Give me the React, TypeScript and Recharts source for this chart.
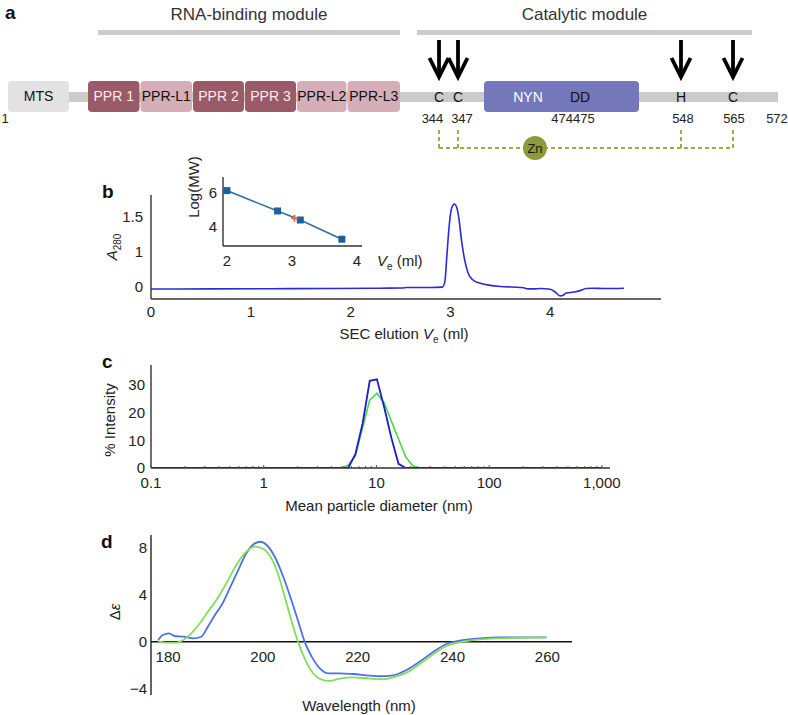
import React from "react";
import {
  ComposedChart,
  Line,
  LineChart,
  ReferenceArea,
  ReferenceLine,
  Scatter,
  XAxis,
  YAxis,
} from "recharts";

const FONT = '"Liberation Sans", Arial, Helvetica, sans-serif';
const INK = "#222";
const AXIS = "#333";
const TICK = { fontSize: 15, fill: INK, fontFamily: FONT };

// ---- a: domain map, x in schematic map units
const modules = [
  { label: "RNA-binding module", from: 98, to: 400 },
  { label: "Catalytic module", from: 417, to: 752 },
];
const domains = [
  { name: "MTS", from: 8, to: 69, kind: "mts" },
  { name: "PPR 1", from: 88, to: 139.5, kind: "ppr" },
  { name: "PPR-L1", from: 140.5, to: 192, kind: "pprl" },
  { name: "PPR 2", from: 193, to: 244, kind: "ppr" },
  { name: "PPR 3", from: 245, to: 296, kind: "ppr" },
  { name: "PPR-L2", from: 297, to: 346.5, kind: "pprl" },
  { name: "PPR-L3", from: 347.5, to: 400, kind: "pprl" },
  { name: "", from: 484, to: 639, kind: "nyn" },
];
const motifs = [
  { x: 528, label: "NYN", kind: "light" },
  { x: 580, label: "DD", kind: "dark" },
];
// zinc ligands: map position of the arrow and of the residue number
const znSites = [
  { x: 439, residue: "C", number: "344", numberX: 432.5 },
  { x: 458, residue: "C", number: "347", numberX: 462 },
  { x: 681, residue: "H", number: "548", numberX: 683 },
  { x: 733, residue: "C", number: "565", numberX: 734 },
];
const mapNumbers = [
  { x: 5, label: "1" },
  { x: 573, label: "474475" },
  { x: 777, label: "572" },
];
const zinc = [{ x: 535, label: "Zn" }];

// ---- b: SEC trace (y in axis tick units: ticks 0,1,2 read as 0, 1, 1.5)
const secTrace = [
  { v: 0, a: -0.075 }, { v: 0.6, a: -0.07 }, { v: 1.2, a: -0.065 }, { v: 1.8, a: -0.06 },
  { v: 2.3, a: -0.05 }, { v: 2.52, a: -0.045 }, { v: 2.56, a: -0.03 }, { v: 2.8, a: -0.03 },
  { v: 2.92, a: -0.02 }, { v: 2.945, a: 0.15 }, { v: 2.965, a: 0.9 }, { v: 2.985, a: 1.65 },
  { v: 3.005, a: 2.15 }, { v: 3.025, a: 2.33 }, { v: 3.04, a: 2.36 }, { v: 3.06, a: 2.29 },
  { v: 3.085, a: 1.95 }, { v: 3.11, a: 1.35 }, { v: 3.14, a: 0.8 }, { v: 3.175, a: 0.4 },
  { v: 3.22, a: 0.2 }, { v: 3.3, a: 0.09 }, { v: 3.4, a: 0.03 }, { v: 3.5, a: 0.0 },
  { v: 3.72, a: -0.03 }, { v: 3.78, a: -0.07 }, { v: 3.84, a: -0.07 }, { v: 3.9, a: -0.06 },
  { v: 4.0, a: -0.08 }, { v: 4.05, a: -0.16 }, { v: 4.1, a: -0.27 }, { v: 4.13, a: -0.25 },
  { v: 4.16, a: -0.19 }, { v: 4.24, a: -0.16 }, { v: 4.3, a: -0.12 }, { v: 4.36, a: -0.06 },
  { v: 4.42, a: -0.05 }, { v: 4.55, a: -0.06 }, { v: 4.74, a: -0.05 },
];
const secXTicks = [0, 1, 2, 3, 4];
const secYTicks = [0, 1, 2];
const secYLabels = ["0", "1", "1.5"];

// b inset: calibration standards and sample
const standards = [
  { v: 2.0, mw: 6.12 },
  { v: 2.78, mw: 4.92 },
  { v: 3.13, mw: 4.39 },
  { v: 3.77, mw: 3.26 },
];
const sample = [{ v: 3.04, mw: 4.49 }];
const insetXTicks = [2, 3, 4];
const insetYTicks = [4, 6];

// ---- c: DLS size distributions
const dlsBlue = [
  { d: 0.1, pct: 0 }, { d: 5.615, pct: 0 }, { d: 6.503, pct: 5 }, { d: 7.531, pct: 16 },
  { d: 8.721, pct: 31.5 }, { d: 10.1, pct: 32 }, { d: 11.7, pct: 22 }, { d: 13.54, pct: 11 },
  { d: 15.69, pct: 1.5 }, { d: 18.17, pct: 0 }, { d: 1000, pct: 0 },
];
const dlsGreen = [
  { d: 4.849, pct: 0 }, { d: 5.615, pct: 1 }, { d: 6.503, pct: 4.5 }, { d: 7.531, pct: 14.5 },
  { d: 8.721, pct: 24.5 }, { d: 10.1, pct: 27 }, { d: 11.7, pct: 23.5 }, { d: 13.54, pct: 17 },
  { d: 15.69, pct: 10.5 }, { d: 18.17, pct: 4 }, { d: 21.04, pct: 0.8 }, { d: 24.36, pct: 0 },
];
const dlsMajor = [0.1, 1, 10, 100, 1000];
const dlsMajorLabels = ["0.1", "1", "10", "100", "1,000"];
const dlsYTicks = [0, 10, 20, 30];

// ---- d: CD spectra
const cdBlue = [
  { wl: 177.9, de: 0.14 }, { wl: 178.9, de: 0.57 }, { wl: 180.2, de: 0.71 }, { wl: 181.4, de: 0.48 },
  { wl: 183.2, de: 0.42 }, { wl: 185.3, de: 0.28 }, { wl: 187.0, de: 0.42 }, { wl: 188.4, de: 1.27 },
  { wl: 189.9, de: 2.26 }, { wl: 191.3, de: 3.11 }, { wl: 193.0, de: 4.52 }, { wl: 194.8, de: 6.07 },
  { wl: 196.5, de: 7.49 }, { wl: 198.3, de: 8.33 }, { wl: 199.5, de: 8.47 }, { wl: 200.8, de: 8.19 },
  { wl: 202.5, de: 7.2 }, { wl: 204.3, de: 5.5 }, { wl: 206.0, de: 3.53 }, { wl: 207.8, de: 1.27 },
  { wl: 208.8, de: 0.0 }, { wl: 210.3, de: -1.27 }, { wl: 212.0, de: -2.26 }, { wl: 213.8, de: -2.68 },
  { wl: 216.2, de: -2.68 }, { wl: 219.0, de: -2.74 }, { wl: 222.6, de: -2.88 }, { wl: 224.5, de: -2.93 },
  { wl: 227.5, de: -2.85 }, { wl: 230.3, de: -2.4 }, { wl: 233.1, de: -1.69 }, { wl: 236.0, de: -0.85 },
  { wl: 238.7, de: -0.2 }, { wl: 241.5, de: 0.08 }, { wl: 245.8, de: 0.28 }, { wl: 249.3, de: 0.37 },
  { wl: 254.2, de: 0.37 }, { wl: 259.8, de: 0.37 },
];
const cdGreen = [
  { wl: 177.9, de: 0.05 }, { wl: 179.7, de: -0.08 }, { wl: 181.8, de: -0.08 }, { wl: 183.2, de: 0.14 },
  { wl: 184.9, de: 0.71 }, { wl: 186.7, de: 1.56 }, { wl: 188.4, de: 2.54 }, { wl: 190.2, de: 3.53 },
  { wl: 192.3, de: 4.95 }, { wl: 194.4, de: 6.5 }, { wl: 196.5, de: 7.63 }, { wl: 198.3, de: 8.05 },
  { wl: 199.3, de: 8.0 }, { wl: 201.1, de: 7.49 }, { wl: 202.9, de: 6.07 }, { wl: 204.6, de: 3.81 },
  { wl: 206.4, de: 1.27 }, { wl: 207.4, de: 0.0 }, { wl: 208.8, de: -1.41 }, { wl: 210.6, de: -2.68 },
  { wl: 212.7, de: -3.25 }, { wl: 214.1, de: -3.33 }, { wl: 216.2, de: -3.13 }, { wl: 219.0, de: -3.02 },
  { wl: 222.6, de: -3.13 }, { wl: 225.5, de: -3.19 }, { wl: 227.5, de: -3.02 }, { wl: 230.3, de: -2.62 },
  { wl: 233.1, de: -1.89 }, { wl: 236.0, de: -1.04 }, { wl: 238.7, de: -0.37 }, { wl: 242.2, de: 0.0 },
  { wl: 245.8, de: 0.2 }, { wl: 249.3, de: 0.28 }, { wl: 254.2, de: 0.31 }, { wl: 259.8, de: 0.37 },
];
const cdXTicks = [180, 200, 220, 240, 260];
const cdYTicks = [-4, 0, 4, 8];

const DOMAIN_FILL: Record<string, string> = { mts: "#e2e2e2", ppr: "#9b5a68", pprl: "#d6aeb8", nyn: "#7478ba" };
const DOMAIN_TEXT: Record<string, string> = { mts: "#111", ppr: "#f6eef0", pprl: "#111", nyn: "#fff" };

const textShape = (style: Record<string, any>) => (p: any) => (
  <text x={p.cx} y={p.cy} textAnchor="middle" dominantBaseline="central" fontFamily={FONT} {...style}>
    {p.payload.label}
  </text>
);

function Arrow(p: any) {
  const { cx, cy } = p;
  return (
    <g stroke="#000" strokeWidth={3.8} fill="none">
      <line x1={cx} y1={cy} x2={cx} y2={cy + 36} />
      <path d={`M${cx - 9.5},${cy + 18} L${cx},${cy + 37} L${cx + 9.5},${cy + 18}`} strokeLinejoin="miter" />
    </g>
  );
}

function ZnBadge(p: any) {
  return (
    <g>
      <circle cx={p.cx} cy={p.cy} r={12} fill="#8d9b3d" />
      <text x={p.cx} y={p.cy} textAnchor="middle" dominantBaseline="central" fontSize={13} fill="#1a1a1a" fontFamily={FONT}>
        {p.payload.label}
      </text>
    </g>
  );
}

function DomainMap() {
  const row = { title: 14, bar: [30, 35], arrow: 40, box: [81, 112], spine: [92, 102], residue: 97, number: 118, bracket: [130, 148] };
  const dash = { stroke: "#a3a948", strokeWidth: 2, strokeDasharray: "4 3" };
  return (
    <ComposedChart width={788} height={160} margin={{ top: 0, right: 0, bottom: 0, left: 0 }}>
      <XAxis type="number" dataKey="x" domain={[0, 788]} hide allowDataOverflow />
      <YAxis type="number" dataKey="y" domain={[0, 160]} reversed hide allowDataOverflow />
      {modules.map((m) => (
        <ReferenceArea key={m.label} x1={m.from} x2={m.to} y1={row.bar[0]} y2={row.bar[1]} fill="#cccccc" fillOpacity={1} stroke="none" />
      ))}
      <ReferenceArea x1={20} x2={778} y1={row.spine[0]} y2={row.spine[1]} fill="#cbcbcb" fillOpacity={1} stroke="none" />
      {domains.map((d) => (
        <ReferenceArea
          key={d.from}
          x1={d.from}
          x2={d.to}
          y1={row.box[0]}
          y2={row.box[1]}
          fill={DOMAIN_FILL[d.kind]}
          fillOpacity={1}
          stroke="none"
          radius={4}
          label={d.name ? { value: d.name, position: "center", fill: DOMAIN_TEXT[d.kind], fontSize: 14, fontFamily: FONT } : undefined}
        />
      ))}
      {znSites.map((s) => (
        <ReferenceLine key={s.number} segment={[{ x: s.x, y: row.bracket[0] }, { x: s.x, y: row.bracket[1] }]} {...dash} />
      ))}
      <ReferenceLine
        segment={[{ x: znSites[0].x, y: row.bracket[1] }, { x: znSites[znSites.length - 1].x, y: row.bracket[1] }]}
        {...dash}
      />
      <Scatter data={modules.map((m) => ({ x: (m.from + m.to) / 2, y: row.title, label: m.label }))} shape={textShape({ fontSize: 17, fill: "#333" })} isAnimationActive={false} />
      <Scatter data={znSites.map((s) => ({ x: s.x, y: row.arrow }))} shape={Arrow} isAnimationActive={false} />
      <Scatter data={znSites.map((s) => ({ x: s.x, y: row.residue, label: s.residue }))} shape={textShape({ fontSize: 14, fill: "#111" })} isAnimationActive={false} />
      <Scatter data={znSites.map((s) => ({ x: s.numberX, y: row.number, label: s.number }))} shape={textShape({ fontSize: 13, fill: INK })} isAnimationActive={false} />
      <Scatter data={mapNumbers.map((n) => ({ x: n.x, y: row.number, label: n.label }))} shape={textShape({ fontSize: 13, fill: INK })} isAnimationActive={false} />
      <Scatter data={motifs.filter((m) => m.kind === "light").map((m) => ({ x: m.x, y: row.residue, label: m.label }))} shape={textShape({ fontSize: 14, fill: "#fff" })} isAnimationActive={false} />
      <Scatter data={motifs.filter((m) => m.kind === "dark").map((m) => ({ x: m.x, y: row.residue, label: m.label }))} shape={textShape({ fontSize: 14, fill: "#111" })} isAnimationActive={false} />
      <Scatter data={zinc.map((z) => ({ x: z.x, y: row.bracket[1], label: z.label }))} shape={ZnBadge} isAnimationActive={false} />
    </ComposedChart>
  );
}

function SecChart() {
  return (
    <LineChart width={700} height={160} margin={{ top: 15, right: 39, bottom: 19, left: 111 }}>
      <XAxis type="number" dataKey="v" domain={[0, 5.11]} ticks={secXTicks} allowDataOverflow height={22} tickSize={0} tickMargin={7} tickLine={false} axisLine={{ stroke: AXIS, strokeWidth: 1.4 }} tick={TICK} />
      <YAxis type="number" domain={[-0.36, 2.62]} ticks={secYTicks} allowDataOverflow width={40} tickSize={0} tickMargin={8} tickLine={false} axisLine={{ stroke: AXIS, strokeWidth: 1.4 }} tick={TICK} tickFormatter={(t: number) => secYLabels[secYTicks.indexOf(t)]} />
      <Line data={secTrace} dataKey="a" type="monotone" stroke="#2a2ad6" strokeWidth={1.6} dot={false} isAnimationActive={false} />
    </LineChart>
  );
}

function SecInset() {
  return (
    <ComposedChart width={220} height={110} margin={{ top: 7, right: 18, bottom: 10, left: 33 }}>
      <XAxis type="number" dataKey="v" domain={[1.94, 4.08]} ticks={insetXTicks} allowDataOverflow height={24} tickSize={0} tickMargin={9} tickLine={false} axisLine={{ stroke: AXIS, strokeWidth: 1.4 }} tick={TICK} />
      <YAxis type="number" dataKey="mw" domain={[2.86, 6.92]} ticks={insetYTicks} allowDataOverflow width={30} tickSize={0} tickMargin={6} tickLine={false} axisLine={{ stroke: AXIS, strokeWidth: 1.4 }} tick={TICK} />
      <Line
        data={standards}
        dataKey="mw"
        stroke="#2f6ea8"
        strokeWidth={1.6}
        isAnimationActive={false}
        dot={(p: any) => <rect key={p.index} x={p.cx - 3.5} y={p.cy - 3.5} width={7} height={7} fill="#1f5f9f" />}
      />
      <Scatter
        data={sample}
        dataKey="mw"
        isAnimationActive={false}
        shape={(p: any) => (
          <g stroke="#e2703a" strokeWidth={2}>
            <line x1={p.cx - 3.5} x2={p.cx + 3.5} y1={p.cy} y2={p.cy} />
            <line x1={p.cx} x2={p.cx} y1={p.cy - 3.5} y2={p.cy + 3.5} />
          </g>
        )}
      />
    </ComposedChart>
  );
}

function DlsTick(p: any) {
  const v = p.payload.value;
  const i = dlsMajor.indexOf(v);
  return (
    <g>
      <line x1={p.x} x2={p.x} y1={p.y} y2={p.y - (i >= 0 ? 3 : 2)} stroke="#555" strokeWidth={1} />
      {i >= 0 && (
        <text x={p.x} y={p.y + 14} textAnchor="middle" dominantBaseline="central" {...TICK}>
          {dlsMajorLabels[i]}
        </text>
      )}
    </g>
  );
}

function DlsChart() {
  const ticks: number[] = [];
  dlsMajor.forEach((dec, k) => {
    ticks.push(dec);
    if (k < dlsMajor.length - 1) for (let m = 2; m <= 9; m++) ticks.push(+(dec * m).toPrecision(3));
  });
  return (
    <LineChart width={650} height={150} margin={{ top: 25, right: 40, bottom: 0, left: 111 }}>
      <XAxis type="number" scale="log" dataKey="d" domain={[0.1, 1180]} allowDataOverflow ticks={ticks} interval={0} height={22} tickSize={0} tickMargin={0} tickLine={false} axisLine={{ stroke: AXIS, strokeWidth: 1.4 }} tick={(p: any) => <DlsTick {...p} />} />
      <YAxis type="number" domain={[0, 37.2]} ticks={dlsYTicks} allowDataOverflow width={40} tickSize={0} tickMargin={6} tickLine={false} axisLine={{ stroke: AXIS, strokeWidth: 1.4 }} tick={TICK} />
      <Line data={dlsGreen} dataKey="pct" type="linear" stroke="#45d845" strokeWidth={1.6} dot={false} isAnimationActive={false} />
      <Line data={dlsBlue} dataKey="pct" type="linear" stroke="#1e1ec8" strokeWidth={1.8} dot={false} isAnimationActive={false} />
    </LineChart>
  );
}

const CD_Y: [number, number] = [-4.52, 9.04];
const CD_SIZE = { width: 600, height: 195, top: 15, bottom: 0, xAxis: 20 };

function CdTick(p: any) {
  const plotH = CD_SIZE.height - CD_SIZE.top - CD_SIZE.bottom - CD_SIZE.xAxis;
  const zeroUp = (plotH * (0 - CD_Y[0])) / (CD_Y[1] - CD_Y[0]);
  return (
    <text x={p.x} y={p.y - zeroUp + 15} textAnchor="middle" dominantBaseline="central" {...TICK}>
      {p.payload.value}
    </text>
  );
}

function CdChart() {
  return (
    <LineChart width={CD_SIZE.width} height={CD_SIZE.height} margin={{ top: CD_SIZE.top, right: 28, bottom: CD_SIZE.bottom, left: 111 }}>
      <XAxis type="number" dataKey="wl" domain={[176.4, 265.2]} allowDataOverflow ticks={cdXTicks} interval={0} height={CD_SIZE.xAxis} tickSize={0} tickMargin={0} axisLine={false} tickLine={false} tick={(p: any) => <CdTick {...p} />} />
      <YAxis type="number" domain={CD_Y} ticks={cdYTicks} allowDataOverflow width={40} tickSize={0} tickMargin={4} tickLine={false} axisLine={{ stroke: "#222", strokeWidth: 1.4 }} tick={TICK} tickFormatter={(t: number) => String(t).replace("-", "\u2212")} />
      <ReferenceLine y={0} stroke="#111" strokeWidth={1.5} />
      <Line data={cdBlue} dataKey="de" type="monotone" stroke="#4b72e6" strokeWidth={1.8} dot={false} isAnimationActive={false} />
      <Line data={cdGreen} dataKey="de" type="monotone" stroke="#84de57" strokeWidth={1.8} dot={false} isAnimationActive={false} />
    </LineChart>
  );
}

function Overlay() {
  return (
    <svg width={788} height={715} style={{ position: "absolute", left: 0, top: 0, pointerEvents: "none" }}>
      <g fontFamily={FONT} fontWeight="bold" fontSize={19} fill="#111">
        <text x={5} y={19}>a</text>
        <text x={102} y={198}>b</text>
        <text x={102} y={368}>c</text>
        <text x={101} y={548}>d</text>
      </g>
      <g fontFamily={FONT} fontSize={15} fill={INK}>
        <text transform="translate(117 247) rotate(-90)" textAnchor="middle">
          <tspan fontStyle="italic">A</tspan>
          <tspan fontSize={10} dy={4}>280</tspan>
        </text>
        <text x={404} y={338.5} textAnchor="middle">
          SEC elution <tspan fontStyle="italic">V</tspan>
          <tspan fontSize={10} dy={4}>e</tspan>
          <tspan dy={-4}> (ml)</tspan>
        </text>
        <text transform="translate(199 187) rotate(-90)" textAnchor="middle">Log(MW)</text>
        <text x={377} y={265.5}>
          <tspan fontStyle="italic">V</tspan>
          <tspan fontSize={10} dy={4}>e</tspan>
          <tspan dy={-4}> (ml)</tspan>
        </text>
        <text transform="translate(115 420) rotate(-90)" textAnchor="middle">% Intensity</text>
        <text x={379} y={510.5} textAnchor="middle">Mean particle diameter (nm)</text>
        <text transform="translate(120 612) rotate(-90)" textAnchor="middle">
          Δ<tspan fontStyle="italic">ε</tspan>
        </text>
        <text x={359} y={710.5} textAnchor="middle">Wavelength (nm)</text>
      </g>
    </svg>
  );
}

const at = (left: number, top: number): React.CSSProperties => ({ position: "absolute", left, top });

export default function App() {
  return (
    <div style={{ position: "absolute", left: 0, top: 0, width: 788, height: 715, background: "#fff", fontFamily: FONT, overflow: "hidden" }}>
      <div style={at(0, 0)}><DomainMap /></div>
      <div style={at(0, 180)}><SecChart /></div>
      <div style={at(160, 170)}><SecInset /></div>
      <div style={at(0, 340)}><DlsChart /></div>
      <div style={at(0, 520)}><CdChart /></div>
      <Overlay />
    </div>
  );
}
